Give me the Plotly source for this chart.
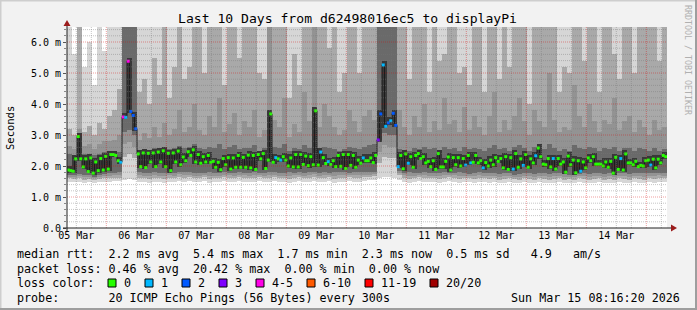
import plotly.graph_objects as go
from datetime import datetime, timedelta

# ---------------- data ----------------
START = datetime(2026, 3, 5, 8, 16, 20)
END = START + timedelta(days=10)

# hourly median RTT (ms)
median_ms = [
    1.87, 1.85, 1.83, 2.23, 2.95, 2.23, 1.97, 2.23, 1.82, 2.26,
    1.77, 2.13, 1.85, 2.24, 1.87, 2.31, 1.90, 2.37, 2.37, 2.34,
    2.17, 2.12, 3.58, 3.57, 5.38, 3.76, 3.63, 3.20, 2.39, 1.98,
    2.42, 1.95, 2.41, 2.13, 2.42, 1.98, 2.45, 2.13, 2.49, 1.98,
    2.41, 1.85, 2.42, 2.13, 2.48, 2.04, 2.29, 2.17, 2.46, 2.34,
    2.52, 2.13, 2.37, 2.09, 2.30, 2.13, 2.34, 2.12, 2.15, 1.96,
    2.12, 1.88, 2.24, 2.04, 2.27, 1.90, 2.26, 1.96, 2.34, 1.96,
    2.28, 1.96, 2.35, 1.94, 2.34, 1.89, 2.37, 2.23, 2.40, 1.92,
    2.19, 3.68, 2.12, 2.27, 2.23, 2.19, 2.30, 2.19, 2.00, 2.26,
    1.97, 2.37, 1.97, 2.37, 2.05, 2.32, 2.01, 2.30, 2.04, 3.78,
    2.03, 2.45, 2.27, 2.08, 2.14, 2.05, 2.17, 1.98, 2.34, 1.99,
    2.37, 1.92, 2.37, 2.02, 2.34, 1.96, 2.19, 2.09, 2.26,
    2.17, 2.17, 2.26, 2.11, 2.34, 2.84, 3.68, 5.26, 3.28, 3.39,
    3.46, 3.70, 3.31, 1.98, 2.34, 1.91, 2.39, 2.09, 2.30, 1.96,
    2.34, 2.40, 2.24, 2.30, 2.10, 2.15, 1.98, 2.17, 1.89, 2.40,
    1.97, 1.97, 2.15, 2.29, 1.87, 2.27, 2.04, 2.27, 2.00, 2.24,
    2.03, 2.34, 2.10, 2.12, 2.34, 2.10, 2.17, 1.94, 2.11, 2.00,
    2.19, 2.04, 2.27, 2.15, 2.24, 1.94, 2.30, 1.89, 2.27, 1.90,
    2.40, 1.96, 2.23, 2.02, 2.37, 1.96, 2.23, 2.10, 2.33, 2.58,
    2.30, 2.06, 2.04, 2.24, 1.97, 2.24, 1.90, 2.24, 2.06, 2.13,
    1.80, 2.32, 2.04, 2.19, 1.78, 2.17, 1.83, 2.13, 1.94, 2.26,
    2.17, 2.30, 2.06, 2.06, 2.06, 2.00, 2.13, 1.96, 2.15, 1.77,
    2.28, 1.89, 2.24, 1.87, 2.39, 2.10, 2.10, 2.04, 2.15, 1.98,
    2.02, 2.00, 2.17, 2.19, 2.03, 2.22, 1.94, 2.22, 2.10, 2.34,
    2.30,
]

# hours (index into median_ms) with lost pings, and how many of 20 were lost
loss_hour = [21, 22, 23, 24, 25, 26, 27, 83, 85, 101, 104, 118,
             124, 125, 126, 127, 128, 129, 130, 131, 132, 136, 159, 161, 166, 178,
             182, 187, 194, 205, 221, 233]
loss_count = [1, 4, 1, 4, 2, 2, 2, 1, 1, 1, 1, 1,
              3, 2, 1, 1, 2, 1, 2, 2, 1, 1, 1, 1, 1, 1,
              1, 1, 1, 1, 1, 1]

# smoke: ping distribution per 2-hour column (ms); values above the top are clipped
ping_min = [
    1.50, 1.48, 1.50, 1.46, 1.48, 1.44, 1.48, 1.50, 1.50, 1.52, 1.52, 1.56,
    1.58, 1.56, 1.50, 1.48, 1.46, 1.50, 1.48, 1.46, 1.50, 1.48, 1.52, 1.50,
    1.52, 1.48, 1.50, 1.52, 1.46, 1.50, 1.48, 1.52, 1.50, 1.48, 1.52, 1.50,
    1.48, 1.50, 1.52, 1.48, 1.50, 1.52, 1.48, 1.50, 1.46, 1.50, 1.52, 1.48,
    1.50, 1.52, 1.48, 1.50, 1.52, 1.46, 1.50, 1.48, 1.52, 1.50, 1.48, 1.52,
    1.54, 1.56, 1.62, 1.66, 1.64, 1.62, 1.56, 1.50, 1.46, 1.48, 1.52, 1.50,
    1.48, 1.50, 1.46, 1.48, 1.52, 1.50, 1.46, 1.48, 1.50, 1.46, 1.48, 1.50,
    1.46, 1.48, 1.44, 1.46, 1.50, 1.46, 1.44, 1.48, 1.46, 1.44, 1.48, 1.46,
    1.44, 1.46, 1.48, 1.44, 1.46, 1.44, 1.48, 1.46, 1.44, 1.46, 1.48, 1.44,
    1.46, 1.44, 1.48, 1.46, 1.44, 1.48, 1.46, 1.44, 1.48, 1.46, 1.50, 1.48,
]
ping_p10 = [
    1.60, 1.58, 1.60, 1.56, 1.58, 1.54, 1.58, 1.60, 1.62, 1.62, 1.62, 2.30,
    2.40, 2.25, 1.62, 1.60, 1.58, 1.62, 1.60, 1.58, 1.62, 1.60, 1.64, 1.62,
    1.64, 1.60, 1.62, 1.64, 1.58, 1.62, 1.60, 1.64, 1.62, 1.60, 1.64, 1.62,
    1.60, 1.62, 1.64, 1.60, 1.62, 1.64, 1.60, 1.62, 1.58, 1.62, 1.64, 1.60,
    1.62, 1.64, 1.60, 1.62, 1.64, 1.58, 1.62, 1.60, 1.64, 1.62, 1.60, 1.64,
    1.66, 1.68, 2.10, 2.30, 2.25, 2.25, 1.70, 1.62, 1.58, 1.60, 1.64, 1.62,
    1.60, 1.62, 1.58, 1.60, 1.64, 1.62, 1.58, 1.60, 1.62, 1.58, 1.60, 1.62,
    1.58, 1.60, 1.56, 1.58, 1.62, 1.58, 1.56, 1.60, 1.58, 1.56, 1.60, 1.58,
    1.56, 1.58, 1.60, 1.56, 1.58, 1.56, 1.60, 1.58, 1.56, 1.58, 1.60, 1.56,
    1.58, 1.56, 1.60, 1.58, 1.56, 1.60, 1.58, 1.56, 1.60, 1.58, 1.62, 1.60,
]
ping_p20 = [
    1.66, 1.64, 1.67, 1.64, 1.64, 1.60, 1.65, 1.67, 1.69, 1.70, 1.71, 2.70,
    2.78, 2.62, 1.71, 1.68, 1.69, 1.71, 1.68, 1.69, 1.71, 1.69, 1.73, 1.71,
    1.72, 1.69, 1.69, 1.71, 1.69, 1.69, 1.69, 1.72, 1.70, 1.68, 1.72, 1.70,
    1.69, 1.71, 1.70, 1.69, 1.71, 1.72, 1.69, 1.69, 1.69, 1.70, 1.72, 1.69,
    1.71, 1.73, 1.69, 1.71, 1.71, 1.69, 1.72, 1.70, 1.71, 1.71, 1.71, 1.72,
    1.72, 1.74, 2.45, 2.68, 2.62, 2.62, 1.77, 1.70, 1.69, 1.68, 1.70, 1.71,
    1.69, 1.69, 1.68, 1.70, 1.70, 1.70, 1.69, 1.68, 1.68, 1.68, 1.70, 1.69,
    1.68, 1.68, 1.65, 1.68, 1.69, 1.65, 1.65, 1.69, 1.67, 1.65, 1.68, 1.68,
    1.65, 1.67, 1.69, 1.66, 1.65, 1.63, 1.67, 1.67, 1.65, 1.67, 1.69, 1.65,
    1.67, 1.65, 1.68, 1.68, 1.65, 1.68, 1.68, 1.66, 1.69, 1.67, 1.70, 1.68,
]
core_lo = [
    1.72, 1.70, 1.74, 1.72, 1.70, 1.66, 1.72, 1.74, 1.76, 1.78, 1.80, 3.10,
    3.15, 3.00, 1.80, 1.76, 1.78, 1.80, 1.76, 1.78, 1.80, 1.78, 1.82, 1.80,
    1.80, 1.78, 1.76, 1.78, 1.80, 1.76, 1.78, 1.80, 1.78, 1.76, 1.80, 1.78,
    1.78, 1.80, 1.76, 1.78, 1.80, 1.80, 1.78, 1.76, 1.80, 1.78, 1.80, 1.78,
    1.80, 1.82, 1.78, 1.80, 1.78, 1.80, 1.82, 1.80, 1.78, 1.80, 1.82, 1.80,
    1.80, 1.82, 2.85, 3.05, 3.00, 3.00, 1.85, 1.78, 1.80, 1.76, 1.78, 1.80,
    1.78, 1.76, 1.78, 1.80, 1.76, 1.78, 1.80, 1.76, 1.74, 1.78, 1.80, 1.76,
    1.78, 1.76, 1.74, 1.78, 1.76, 1.72, 1.74, 1.78, 1.76, 1.74, 1.76, 1.78,
    1.74, 1.76, 1.78, 1.76, 1.72, 1.70, 1.74, 1.76, 1.74, 1.76, 1.78, 1.74,
    1.76, 1.74, 1.76, 1.78, 1.74, 1.76, 1.78, 1.76, 1.78, 1.76, 1.78, 1.76,
]
core_hi = [
    2.38, 2.35, 3.05, 2.38, 2.38, 2.35, 2.40, 2.44, 2.48, 2.48, 2.45, 6.80,
    6.80, 6.80, 2.50, 2.52, 2.48, 2.58, 2.52, 2.62, 2.54, 2.58, 2.66, 2.58,
    2.62, 2.72, 2.58, 2.54, 2.62, 2.58, 2.72, 2.54, 2.62, 2.68, 2.54, 2.58,
    2.58, 2.68, 2.50, 2.58, 3.80, 2.62, 2.58, 2.72, 2.50, 2.58, 2.54, 2.68,
    2.58, 3.85, 2.58, 2.62, 2.58, 2.54, 2.50, 2.54, 2.62, 2.58, 2.54, 2.62,
    2.68, 2.72, 6.80, 6.80, 6.80, 6.80, 2.54, 2.50, 2.50, 2.58, 2.54, 2.62,
    2.54, 2.58, 2.50, 2.62, 2.54, 2.58, 2.50, 2.62, 2.54, 2.58, 2.54, 2.50,
    2.58, 2.68, 2.54, 2.58, 2.50, 2.62, 2.68, 2.58, 2.50, 2.62, 2.58, 2.54,
    2.72, 2.58, 2.50, 2.54, 2.50, 2.68, 2.58, 2.54, 2.62, 2.58, 2.50, 2.58,
    2.54, 2.62, 2.50, 2.58, 2.58, 2.50, 2.58, 2.54, 2.50, 2.58, 2.50, 2.54,
]
ping_q80 = [
    2.65, 2.55, 3.20, 2.65, 2.70, 2.55, 2.70, 2.80, 2.80, 2.85, 3.00, 6.80,
    6.80, 6.80, 2.85, 3.05, 2.90, 3.25, 2.95, 3.40, 3.00, 3.20, 3.80, 3.10,
    3.25, 4.00, 3.15, 3.00, 3.60, 3.25, 4.20, 3.10, 3.35, 3.70, 3.00, 3.45,
    3.25, 3.80, 2.95, 3.15, 6.80, 3.50, 3.25, 4.20, 2.95, 3.35, 3.10, 4.40,
    3.45, 6.80, 3.25, 4.00, 3.60, 3.25, 3.00, 3.15, 3.80, 3.45, 3.10, 3.60,
    3.80, 3.50, 6.80, 6.80, 6.80, 6.80, 3.80, 3.25, 3.00, 3.60, 3.25, 4.00,
    3.10, 3.45, 3.15, 4.20, 3.35, 3.50, 3.10, 3.90, 3.15, 3.60, 3.25, 3.00,
    3.60, 4.40, 3.10, 3.50, 3.15, 3.60, 4.20, 3.45, 3.00, 3.80, 3.45, 3.25,
    5.00, 3.50, 3.10, 3.25, 3.15, 4.60, 3.60, 3.25, 4.00, 3.45, 3.10, 3.50,
    3.35, 4.20, 3.15, 3.45, 3.60, 3.10, 3.50, 3.25, 3.00, 3.50, 3.15, 3.25,
]
ping_q90 = [
    3.20, 3.00, 6.80, 3.10, 3.30, 3.00, 3.40, 3.20, 3.60, 3.80, 4.50, 6.80,
    6.80, 6.80, 4.40, 4.80, 4.00, 5.50, 4.60, 6.80, 4.20, 5.20, 6.80, 4.80,
    5.20, 6.80, 6.80, 5.00, 6.80, 6.80, 6.80, 4.60, 6.80, 6.80, 5.50, 6.80,
    6.80, 6.80, 5.00, 4.80, 6.80, 6.80, 6.80, 6.80, 4.20, 5.60, 4.60, 6.80,
    6.80, 6.80, 6.80, 6.80, 5.80, 6.80, 4.40, 5.00, 6.80, 6.80, 5.00, 6.80,
    6.80, 6.80, 6.80, 6.80, 6.80, 6.80, 6.80, 6.80, 4.80, 6.80, 6.80, 6.80,
    4.40, 6.80, 5.40, 5.60, 6.80, 6.80, 5.00, 5.20, 4.60, 6.80, 6.80, 4.40,
    6.80, 6.80, 4.80, 6.80, 5.20, 6.80, 6.80, 6.80, 4.00, 6.80, 6.80, 6.80,
    6.80, 6.80, 4.40, 5.20, 5.00, 6.80, 6.80, 5.40, 6.80, 6.80, 4.40, 6.80,
    6.80, 5.60, 4.80, 6.80, 6.80, 5.00, 6.80, 6.80, 6.80, 6.80, 5.40, 6.80,
]
ping_max = [
    6.80, 5.60, 6.80, 5.20, 6.00, 4.60, 6.80, 5.70, 6.80, 6.80, 6.80, 6.80,
] + [6.80] * 108

date_labels = ["05 Mar", "06 Mar", "07 Mar", "08 Mar", "09 Mar",
               "10 Mar", "11 Mar", "12 Mar", "13 Mar", "14 Mar"]
y_ticks = [0, 1, 2, 3, 4, 5, 6]
y_labels = ["0.0", "1.0 m", "2.0 m", "3.0 m", "4.0 m", "5.0 m", "6.0 m"]

loss_names = ["0", "1", "2", "3", "4-5", "6-10", "11-19", "20/20"]
loss_colors = ["#26ff00", "#00b8ff", "#0059ff", "#7e00ff",
               "#ff00e6", "#ff5a00", "#ff0000", "#a00000"]

# ---------------- geometry ----------------
FW, FH = 697, 310
L, R, T, B = 67, 30, 27, 82
PW, PH = FW - L - R, FH - T - B
Y_TOP = PH / 31.0
MONO = "DejaVu Sans Mono"


def px(xp):
    return (xp - L) / PW


def py(yp):
    return 1 - (yp - T) / PH


def loss_class(n):
    if n <= 3:
        return n
    if n <= 5:
        return 4
    if n <= 10:
        return 5
    if n <= 19:
        return 6
    return 7


ncol = len(ping_min)
col_t = [START + timedelta(hours=2 * j + 1) for j in range(ncol)]
med_t = [START + timedelta(hours=i + 0.5) for i in range(len(median_ms))]
BW = 2 * 3600 * 1000

fig = go.Figure()


def band(lo, hi, color):
    fig.add_trace(go.Bar(
        x=col_t, base=lo, y=[h - l for l, h in zip(lo, hi)], width=BW,
        marker=dict(color=color, line=dict(width=0)), hoverinfo="skip"))


band(ping_min, ping_max, "#d6d6d6")
band(ping_p10, ping_q90, "#a9a9a9")
band(ping_p20, ping_q80, "#939393")
band(core_lo, core_hi, "#6a6a6a")

dense_lo, dense_hi = [], []
for j in range(ncol):
    pair = median_ms[2 * j:2 * j + 2]
    dense_lo.append(min(pair) - 0.06)
    dense_hi.append(max(pair) + 0.12)
band(dense_lo, dense_hi, "#383838")

# median line
fig.add_trace(go.Scatter(x=med_t, y=median_ms, mode="lines",
                         line=dict(color="#1c1c1c", width=1, shape="hvh"),
                         hoverinfo="skip"))
loss_map = dict(zip(loss_hour, loss_count))
mcolors = [loss_colors[loss_class(loss_map.get(i, 0))] for i in range(len(median_ms))]
fig.add_trace(go.Scatter(x=med_t, y=median_ms, mode="markers",
                         marker=dict(symbol="square", size=3, color=mcolors,
                                     line=dict(width=0)),
                         hoverinfo="skip"))

# ---------------- grid (drawn above the smoke, like rrdtool) ----------------
shapes = []
MAJ = "rgba(215,0,0,0.38)"
MIN = "rgba(120,120,120,0.42)"
t = datetime(2026, 3, 5, 12, 0)
while t < END:
    if t > START:
        shapes.append(dict(type="line", xref="x", yref="paper", x0=t, x1=t, y0=0, y1=1,
                           layer="above",
                           line=dict(color=MAJ if t.hour == 0 else MIN, width=1,
                                     dash="1px,1px")))
    t += timedelta(hours=6)
k = 1
while k * 0.2 < Y_TOP:
    v = round(k * 0.2, 3)
    shapes.append(dict(type="line", xref="paper", yref="y", x0=0, x1=1, y0=v, y1=v,
                       layer="above",
                       line=dict(color=MAJ if k % 5 == 0 else MIN, width=1,
                                 dash="1px,1px")))
    k += 1

# axes lines + arrows
AX = "#222222"
ARROW = "#9b1c1c"
shapes.append(dict(type="line", xref="paper", yref="paper", x0=px(63), x1=px(672),
                   y0=py(228), y1=py(228), line=dict(color=AX, width=1)))
shapes.append(dict(type="line", xref="paper", yref="paper", x0=px(67), x1=px(67),
                   y0=py(231), y1=py(25), line=dict(color=AX, width=1)))
shapes.append(dict(type="path", xref="paper", yref="paper",
                   path=f"M {px(63.5)},{py(26)} L {px(67)},{py(20)} L {px(70.5)},{py(26)} Z",
                   fillcolor=ARROW, line=dict(width=0)))
shapes.append(dict(type="path", xref="paper", yref="paper",
                   path=f"M {px(671)},{py(224.5)} L {px(677)},{py(228)} L {px(671)},{py(231.5)} Z",
                   fillcolor=ARROW, line=dict(width=0)))

# outer frame
shapes.append(dict(type="line", xref="paper", yref="paper", x0=px(0), x1=px(697),
                   y0=py(0.5), y1=py(0.5), line=dict(color="#cecece", width=2)))
shapes.append(dict(type="line", xref="paper", yref="paper", x0=px(0.5), x1=px(0.5),
                   y0=py(0), y1=py(310), line=dict(color="#cecece", width=2)))
shapes.append(dict(type="line", xref="paper", yref="paper", x0=px(0), x1=px(697),
                   y0=py(309), y1=py(309), line=dict(color="#9e9e9e", width=2)))
shapes.append(dict(type="line", xref="paper", yref="paper", x0=px(696), x1=px(696),
                   y0=py(0), y1=py(310), line=dict(color="#9e9e9e", width=2)))

# loss colour legend boxes
box_left = [108, 145, 182, 219, 256, 307, 365, 430]
label_left = [124, 161, 198, 235, 272, 323, 381, 446]
for bx, c in zip(box_left, loss_colors):
    shapes.append(dict(type="rect", xref="paper", yref="paper",
                       x0=px(bx), x1=px(bx + 8), y0=py(279), y1=py(287),
                       fillcolor=c, line=dict(color="#000000", width=1)))

# ---------------- texts ----------------
ann = []


def text(s, x, y, size, anchor="left", color="#000000", angle=0):
    ann.append(dict(text=s.replace(" ", "\u00a0"), x=px(x), y=py(y), xref="paper", yref="paper",
                    xanchor=anchor, yanchor="middle", showarrow=False, textangle=angle,
                    font=dict(family=MONO, size=size, color=color), borderpad=0))


text("Last 10 Days from d62498016ec5 to displayPi", 347, 19, 13.1, "center")
text("Seconds", 10, 128, 10.5, "center", angle=-90)
text("RRDTOOL / TOBI OETIKER", 688, 60, 8.3, "center", color="#b0b0b0", angle=90)

LS = 11.7
text("median rtt:  2.2 ms avg  5.4 ms max  1.7 ms min  2.3 ms now  0.5 ms sd   4.9   am/s",
     16, 254, LS)
text("packet loss: 0.46 % avg  20.42 % max  0.00 % min  0.00 % now", 16, 269, LS)
text("loss color:", 16, 283, LS)
for lx, name in zip(label_left, loss_names):
    text(name, lx - 1, 283, LS)
text("probe:       20 ICMP Echo Pings (56 Bytes) every 300s", 16, 298, LS)
text("Sun Mar 15 08:16:20 2026", 681, 298, LS, "right")

noon_ticks = [datetime(2026, 3, 5 + d, 12, 0) for d in range(len(date_labels))]

fig.update_layout(
    width=FW, height=FH,
    margin=dict(l=L, r=R, t=T, b=B, pad=0),
    paper_bgcolor="#f2f2f2", plot_bgcolor="#ffffff",
    barmode="overlay", bargap=0, showlegend=False,
    shapes=shapes, annotations=ann,
    xaxis=dict(type="date", range=[START, END], showgrid=False, zeroline=False,
               tickmode="array", tickvals=noon_ticks, ticktext=date_labels,
               ticks="", tickfont=dict(family=MONO, size=10, color="#000"),
               showline=False, fixedrange=True),
    yaxis=dict(range=[0, Y_TOP], showgrid=False, zeroline=False,
               tickmode="array", tickvals=y_ticks, ticktext=y_labels,
               ticks="outside", ticklen=3, tickcolor="#555",
               minor=dict(dtick=0.2, tick0=0, ticks="outside", ticklen=2,
                          tickcolor="#888", showgrid=False),
               tickfont=dict(family=MONO, size=10, color="#000"),
               showline=False, fixedrange=True),
)

fig.write_html("out.html")
